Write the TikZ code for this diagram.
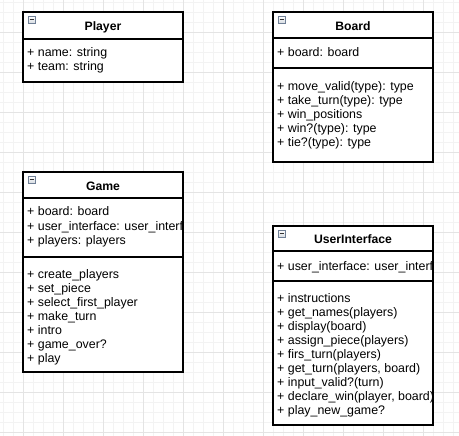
\documentclass[tikz,border=0pt]{standalone}
\usepackage{fontspec}
\setmainfont{Liberation Sans}
\definecolor{gridmajor}{HTML}{E4E4E4}
\definecolor{gridminor}{HTML}{F3F3F3}
\definecolor{iconline}{HTML}{6F7F96}

\begin{document}
\begin{tikzpicture}[x=1bp, y=-1bp,
    classbox/.style={draw=black, line width=1.1bp},
    classname/.style={font=\fontsize{12.2bp}{14bp}\selectfont\bfseries, anchor=base, inner sep=0pt},
    member/.style={font=\fontsize{12.4bp}{14bp}\selectfont, anchor=base west, inner sep=0pt},
    collapse/.style={draw=iconline, line width=0.8bp, top color=white, bottom color=iconline!30,
      minimum size=7.5bp, inner sep=0pt,
      path picture={\draw[line width=1bp, black!80]
        ([xshift=1.6bp]path picture bounding box.west) -- ([xshift=-1.6bp]path picture bounding box.east);}},
  ]
  \useasboundingbox (0,0) rectangle (459,436);
  % grid
  \foreach \x in {3,13,...,453} \draw[gridminor] (\x,0) -- (\x,436);
  \foreach \y in {2,12,...,432} \draw[gridminor] (0,\y) -- (459,\y);
  \foreach \x in {23,63,...,423} \draw[gridmajor] (\x,0) -- (\x,436);
  \foreach \y in {32,72,...,432} \draw[gridmajor] (0,\y) -- (459,\y);

  % Player
  \draw[classbox, fill=white] (23,12) rectangle (183,82);
  \draw[classbox] (23,39) -- (183,39);
  \node[collapse] (player-icon) at (31.8,19.8) {};
  \node[classname] (player-title) at (103,31) {Player};
  \foreach \txt [count=\i] in {+ name: string, + team: string}
    \node[member] (player-a\i) at (27,43+14*\i) {\txt};

  % Board
  \draw[classbox, fill=white] (273,12) rectangle (433,162);
  \draw[classbox] (273,38) -- (433,38) (273,68) -- (433,68);
  \node[collapse] (board-icon) at (281.8,19.8) {};
  \node[classname] (board-title) at (353,31) {Board};
  \node[member] (board-a1) at (277,57) {+ board: board};
  \foreach \txt [count=\i] in {+ move\_valid(type): type, + take\_turn(type): type,
      + win\_positions, + win?(type): type, + tie?(type): type}
    \node[member] (board-m\i) at (277,77+14*\i) {\txt};

  % Game
  \draw[classbox, fill=white] (23,172) rectangle (183,372);
  \draw[classbox] (23,198) -- (183,198) (23,257) -- (183,257);
  \node[collapse] (game-icon) at (31.8,179.8) {};
  \node[classname] (game-title) at (103,191) {Game};
  \begin{scope}
    \clip (24,199) rectangle (182,371);
    \foreach \txt [count=\i] in {+ board: board, + user\_interface: user\_interf, + players: players}
      \node[member] (game-a\i) at (27,202+14*\i) {\txt};
    \foreach \txt [count=\i] in {+ create\_players, + set\_piece, + select\_first\_player,
        + make\_turn, + intro, + game\_over?, + play}
      \node[member] (game-m\i) at (27,264+14*\i) {\txt};
  \end{scope}

  % UserInterface
  \draw[classbox, fill=white] (273,226) rectangle (433,425);
  \draw[classbox] (273,251) -- (433,251) (273,281) -- (433,281);
  \node[collapse] (ui-icon) at (281.8,233.8) {};
  \node[classname] (ui-title) at (353,243) {UserInterface};
  \begin{scope}
    \clip (274,252) rectangle (432,424);
    \node[member] (ui-a1) at (277,270) {+ user\_interface: user\_interf};
    \foreach \txt [count=\i] in {+ instructions, + get\_names(players), + display(board),
        + assign\_piece(players), + firs\_turn(players), {+ get\_turn(players, board)},
        + input\_valid?(turn), {+ declare\_win(player, board)}, + play\_new\_game?}
      \node[member] (ui-m\i) at (277,288+14*\i) {\txt};
  \end{scope}
\end{tikzpicture}
\end{document}
